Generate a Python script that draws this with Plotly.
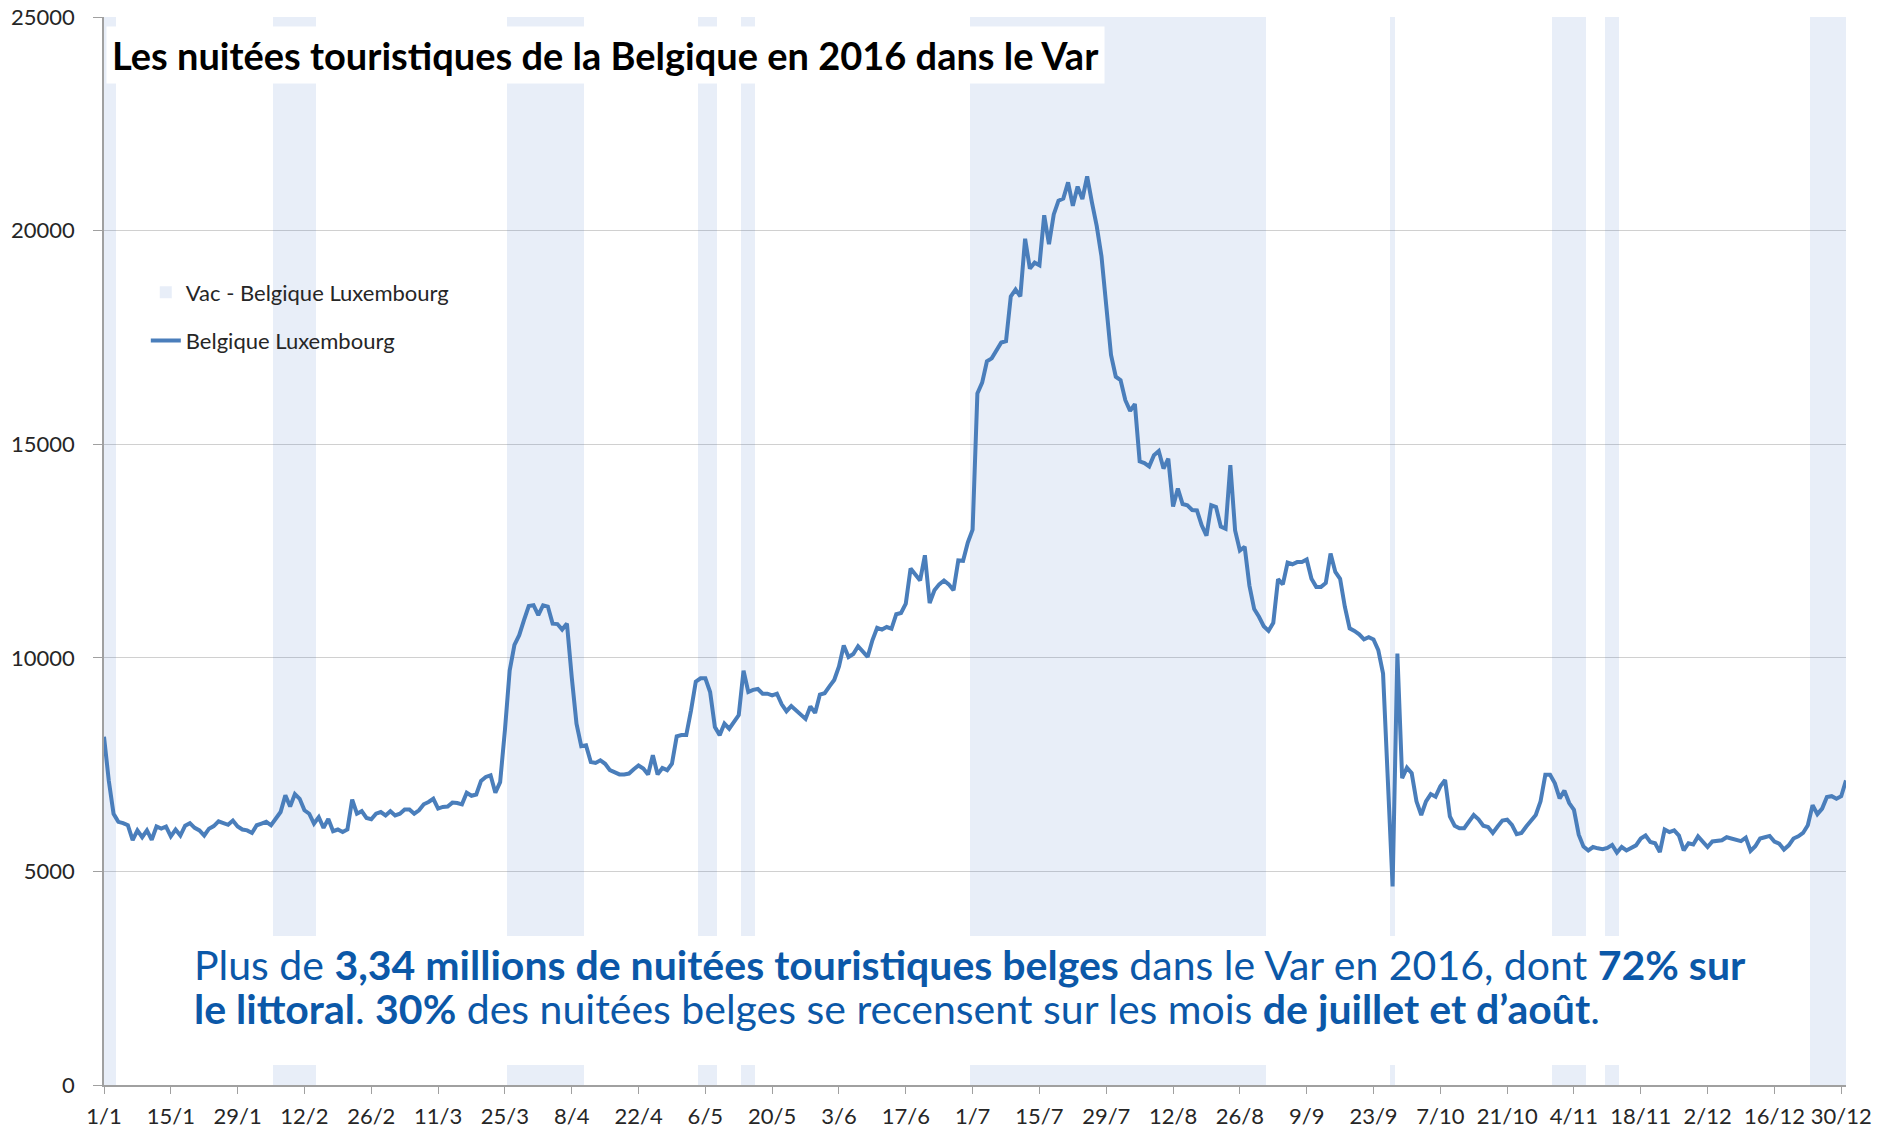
import pandas as pd
import plotly.graph_objects as go

# ---- data -------------------------------------------------------------
dates = pd.date_range("2016-01-01", "2016-12-31", freq="D")

jan = [8150, 7130, 6350, 6160, 6130, 6080, 5730, 5960, 5800, 5960, 5740, 6050, 6000, 6050, 5820, 5980,
       5840, 6070, 6130, 6020, 5960, 5840, 6000, 6060, 6170, 6120, 6090, 6190, 6050, 5980, 5960]
feb = [5900, 6080, 6120, 6160, 6080, 6230, 6390, 6780, 6520, 6810, 6700, 6430, 6350, 6120, 6270, 6020,
       6230, 5940, 5980, 5920, 5980, 6680, 6350, 6410, 6250, 6220, 6350, 6390, 6310]
mar = [6410, 6310, 6350, 6450, 6450, 6350, 6430, 6570, 6625, 6700, 6470, 6510, 6520, 6610, 6600, 6570,
       6840, 6770, 6800, 7120, 7210, 7250, 6840, 7090, 8300, 9700, 10300, 10530, 10880, 11210, 11230]
apr = [11000, 11230, 11200, 10800, 10790, 10660, 10800, 9550, 8460, 7930, 7950, 7560, 7540, 7600, 7520,
       7370, 7330, 7270, 7270, 7290, 7390, 7480, 7410, 7270, 7720, 7270, 7420, 7370, 7520, 8160]
may = [8190, 8190, 8770, 9440, 9520, 9520, 9200, 8380, 8190, 8460, 8340, 8500, 8660, 9700, 9200, 9250,
       9270, 9160, 9160, 9120, 9160, 8910, 8750, 8870, 8770, 8700, 8570, 8860, 8710, 9140, 9170]
jun = [9330, 9480, 9800, 10290, 10020, 10090, 10270, 10130, 10020, 10410, 10700, 10660, 10720, 10680,
       11020, 11050, 11270, 12090, 11930, 11810, 12400, 11280, 11580, 11720, 11810, 11720, 11580, 12280,
       12270, 12700]
jul = [13000, 16190, 16440, 16940, 17010, 17190, 17380, 17410, 18460, 18620, 18460, 19810, 19110, 19250,
       19190, 20360, 19680, 20380, 20700, 20750, 21130, 20580, 21030, 20740, 21270, 20660, 20110, 19400,
       18150, 17090, 16580]
aug = [16500, 16030, 15780, 15940, 14600, 14560, 14480, 14740, 14840, 14430, 14660, 13540, 13960, 13600,
       13570, 13460, 13450, 13100, 12860, 13570, 13530, 13070, 13020, 14510, 12980, 12510, 12600, 11690,
       11140, 10960, 10740]
sep = [10630, 10820, 11840, 11720, 12230, 12190, 12240, 12240, 12300, 11850, 11660, 11660, 11750, 12440,
       12010, 11850, 11190, 10690, 10630, 10550, 10430, 10480, 10430, 10180, 9630, 7000, 4650, 10100,
       7180, 7430]
oct_ = [7300, 6640, 6320, 6640, 6810, 6750, 6990, 7140, 6290, 6070, 6010, 6010, 6170, 6320, 6220, 6070,
        6040, 5900, 6050, 6190, 6210, 6090, 5870, 5900, 6050, 6170, 6320, 6640, 7260, 7260, 7060]
nov = [6710, 6890, 6600, 6440, 5860, 5580, 5490, 5570, 5540, 5520, 5550, 5620, 5440, 5570, 5490, 5550,
       5610, 5770, 5840, 5690, 5660, 5450, 5980, 5920, 5960, 5840, 5490, 5660, 5630, 5820]
dec = [5710, 5570, 5700, 5710, 5730, 5800, 5770, 5740, 5710, 5790, 5480, 5590, 5770, 5800, 5830, 5700,
       5650, 5510, 5610, 5770, 5820, 5900, 6080, 6550, 6340, 6470, 6740, 6760, 6700, 6760, 7130]

nuitees = jan + feb + mar + apr + may + jun + jul + aug + sep + oct_ + nov + dec

vacation_periods = [
    ("2016-01-01", "2016-01-03"),
    ("2016-02-06", "2016-02-14"),
    ("2016-03-26", "2016-04-10"),
    ("2016-05-05", "2016-05-08"),
    ("2016-05-14", "2016-05-16"),
    ("2016-07-01", "2016-08-31"),
    ("2016-09-27", "2016-09-27"),
    ("2016-10-31", "2016-11-06"),
    ("2016-11-11", "2016-11-13"),
    ("2016-12-24", "2016-12-31"),
]
vacation_level = 25000

vac_values = []
for d in dates:
    on = any(pd.Timestamp(a) <= d <= pd.Timestamp(b) for a, b in vacation_periods)
    vac_values.append(vacation_level if on else None)

title_text = "Les nuitées touristiques de la Belgique en 2016 dans le Var"
note_line1 = ("Plus de <b>3,34 millions de nuitées touristiques belges</b> dans le Var en 2016, "
              "dont <b>72% sur</b>")
note_line2 = ("<b>le littoral</b>. <b>30%</b> des nuitées belges se recensent sur les mois "
              "<b>de juillet et d’août</b>.")

# ---- figure -----------------------------------------------------------
FONT = "Lato, 'Open Sans', sans-serif"
DAY_MS = 86400000
TXT = "#262626"

fig = go.Figure()
fig.add_trace(go.Bar(
    x=dates, y=vac_values, width=DAY_MS,
    marker=dict(color="rgba(68,114,196,0.12)", line=dict(width=0)),
    name="Vac - Belgique Luxembourg", legend="legend", hoverinfo="skip",
))
fig.add_trace(go.Scatter(
    x=dates, y=nuitees, mode="lines",
    line=dict(color="#4A7EBB", width=4),
    name="Belgique Luxembourg", legend="legend2",
))

fig.update_layout(
    width=1877, height=1131,
    margin=dict(l=104, r=31, t=17, b=46, autoexpand=False),
    paper_bgcolor="white", plot_bgcolor="white",
    font=dict(family=FONT, size=22, color=TXT),
    bargap=0,
    showlegend=True,
    legend=dict(x=0.024, y=0.742, xanchor="left", yanchor="middle",
                bgcolor="rgba(0,0,0,0)", font=dict(size=22, color=TXT)),
    legend2=dict(x=0.024, y=0.697, xanchor="left", yanchor="middle",
                 bgcolor="rgba(0,0,0,0)", font=dict(size=22, color=TXT)),
    xaxis=dict(
        type="date", range=["2016-01-01", "2016-12-31"],
        tick0="2016-01-01", dtick=14 * DAY_MS, tickformat="%-d/%-m",
        ticks="outside", ticklen=7, tickcolor="#A0A0A0",
        showline=True, linecolor="#A0A0A0", linewidth=1.5,
        showgrid=False, zeroline=False,
        tickfont=dict(size=22, color=TXT), ticklabelstandoff=4,
    ),
    yaxis=dict(
        range=[0, 25000], dtick=5000, tickformat="d",
        ticks="outside", ticklen=9, tickcolor="#A0A0A0",
        showline=True, linecolor="#A0A0A0", linewidth=1.5,
        showgrid=True, gridcolor="#D0D0D0", gridwidth=1.2, zeroline=False,
        tickfont=dict(size=22, color=TXT), ticklabelstandoff=14,
    ),
)

# white box behind the commentary
fig.add_shape(type="rect", xref="paper", yref="y",
              x0=0.039, x1=0.962, y0=470, y1=3490,
              fillcolor="white", line=dict(width=0), layer="above")

fig.add_annotation(text="<b>" + title_text + "</b>", xref="paper", yref="paper",
                   x=0.001, y=0.9645, xanchor="left", yanchor="middle", showarrow=False,
                   font=dict(family=FONT, size=38, color="black"),
                   bgcolor="white", borderpad=5)

NOTE_COLOR = "#0B58A8"
fig.add_annotation(text=note_line1, xref="paper", yref="paper",
                   x=0.0505, y=0.1125, xanchor="left", yanchor="middle", showarrow=False,
                   align="left", font=dict(family=FONT, size=41, color=NOTE_COLOR))
fig.add_annotation(text=note_line2, xref="paper", yref="paper",
                   x=0.0505, y=0.0715, xanchor="left", yanchor="middle", showarrow=False,
                   align="left", font=dict(family=FONT, size=41, color=NOTE_COLOR))

fig.write_html("out.html", config={"displayModeBar": False},
               post_script="document.body.style.margin='0px';")
